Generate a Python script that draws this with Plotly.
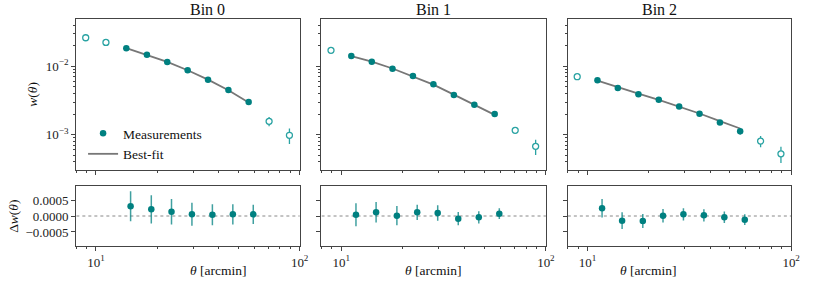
import plotly.graph_objects as go

# ---------------- data ----------------
theta = [8.91, 11.2, 14.1, 17.8, 22.4, 28.2, 35.5, 44.7, 56.2, 70.8, 89.1]
theta_res = [11.8, 14.8, 18.7, 23.5, 29.6, 37.3, 47.0, 59.2]

# Bin 0
w0 = [0.0262, 0.0224, 0.01836, 0.01479, 0.01156, 0.00874, 0.00637, 0.00450, 0.00300, 0.00157, 0.00098]
e0 = [0.0006, 0.0005, 0.0004, 0.0003, 0.00025, 0.0002, 0.00016, 0.00013, 0.00012, 0.00024, 0.00025]
used0 = [False, False, True, True, True, True, True, True, True, False, False]
fit0 = [0.0185, 0.01475, 0.01160, 0.00878, 0.00640, 0.00448, 0.00295]
r0 = [0.000302, 0.000208, 0.000135, 0.000052, 0.000042, 0.000052, 0.000052]
re0 = [0.00047, 0.00044, 0.00040, 0.00036, 0.00033, 0.00032, 0.00030]

# Bin 1
w1 = [0.01714, 0.01416, 0.01167, 0.00923, 0.00722, 0.00545, 0.00380, 0.00274, 0.00200, 0.001156, 0.000675]
e1 = [0.0004, 0.0003, 0.00025, 0.0002, 0.00016, 0.00013, 0.0001, 0.00009, 0.00008, 0.0001, 0.00017]
used1 = [False, True, True, True, True, True, True, True, True, False, False]
fit1 = [0.01410, 0.01170, 0.00930, 0.00718, 0.00540, 0.00385, 0.00272, 0.00195]
r1 = [0.000042, 0.000115, 0.00001, 0.000115, 0.000094, -0.000083, -0.000042, 0.000073]
re1 = [0.00036, 0.00032, 0.00030, 0.00024, 0.00024, 0.00021, 0.00019, 0.00017]

# Bin 2
w2 = [0.00705, 0.00624, 0.00481, 0.00389, 0.00325, 0.00259, 0.00202, 0.00151, 0.00112, 0.000805, 0.000525]
e2 = [0.00015, 0.00014, 0.00012, 0.0001, 0.00009, 0.00008, 0.00008, 0.0001, 0.00012, 0.00015, 0.00014]
used2 = [False, True, True, True, True, True, True, True, True, False, False]
fit2 = [0.00620, 0.00495, 0.00400, 0.00323, 0.00258, 0.00204, 0.00158, 0.00123]
r2 = [0.00024, -0.000146, -0.000156, 0.00001, 0.000052, 0.000021, -0.000042, -0.000115]
re2 = [0.00029, 0.00026, 0.00022, 0.00021, 0.00019, 0.00019, 0.00018, 0.00017]

bins = ["Bin 0", "Bin 1", "Bin 2"]
W = [w0, w1, w2]
E = [e0, e1, e2]
USED = [used0, used1, used2]
FIT = [fit0, fit1, fit2]
R = [r0, r1, r2]
RE = [re0, re1, re2]
RX = [theta_res[1:], theta_res, theta_res]

y_ticks = [1e-3, 1e-2]
y_ticktext = ["10<sup>\u22123</sup>", "10<sup>\u22122</sup>"]
x_ticks = [10, 100]
x_ticktext = ["10<sup>1</sup>", "10<sup>2</sup>"]
r_ticks = [-0.0005, 0.0, 0.0005]
r_ticktext = ["\u22120.0005", "0.0000", "0.0005"]

# ---------------- style ----------------
TEAL = "#008080"
TEAL_ERR = "rgba(0,128,128,0.75)"
TEAL_OPEN = "#2aa3a3"
FIT_COL = "#777777"
AX_COL = "#444444"
FONT = "Liberation Serif"

W_PX, H_PX = 814, 284
xdom_px = [(77, 303), (325, 552), (574, 800)]
top_px = (19, 170)
bot_px = (186, 246)


def xd(p):
    return [p[0] / W_PX, p[1] / W_PX]


def yd(p):
    return [1 - p[1] / H_PX, 1 - p[0] / H_PX]


fig = go.Figure()
layout = {}

for i in range(3):
    xa_top = "x" if i == 0 else f"x{2*i+1}"
    ya_top = "y" if i == 0 else f"y{2*i+1}"
    xa_bot = f"x{2*i+2}"
    ya_bot = f"y{2*i+2}"

    used_x = [t for t, u in zip(theta, USED[i]) if u]
    used_y = [v for v, u in zip(W[i], USED[i]) if u]
    used_e = [v for v, u in zip(E[i], USED[i]) if u]
    un_x = [t for t, u in zip(theta, USED[i]) if not u]
    un_y = [v for v, u in zip(W[i], USED[i]) if not u]
    un_e = [v for v, u in zip(E[i], USED[i]) if not u]

    fig.add_trace(go.Scatter(
        x=used_x, y=FIT[i], mode="lines", line=dict(color=FIT_COL, width=1.8),
        name="Best-fit", showlegend=False, xaxis=xa_top, yaxis=ya_top, legendrank=2))
    fig.add_trace(go.Scatter(
        x=un_x, y=un_y, mode="markers",
        marker=dict(symbol="circle", size=6, color="white",
                    line=dict(color=TEAL_OPEN, width=1.3)),
        error_y=dict(type="data", array=un_e, color=TEAL_OPEN, thickness=1.3, width=0),
        showlegend=False, xaxis=xa_top, yaxis=ya_top))
    fig.add_trace(go.Scatter(
        x=used_x, y=used_y, mode="markers",
        marker=dict(symbol="circle", size=6.5, color=TEAL),
        error_y=dict(type="data", array=used_e, color=TEAL_ERR, thickness=1.3, width=0),
        name="Measurements", showlegend=(i == 0), xaxis=xa_top, yaxis=ya_top,
        legendrank=1))
    if i == 0:
        fig.add_trace(go.Scatter(
            x=[None], y=[None], mode="lines", line=dict(color=FIT_COL, width=1.8),
            name="Best-fit", showlegend=True, xaxis=xa_top, yaxis=ya_top, legendrank=2))

    # residual
    fig.add_trace(go.Scatter(
        x=[7, 110], y=[0, 0], mode="lines",
        line=dict(color="#888888", width=1, dash="dot"),
        showlegend=False, hoverinfo="skip", xaxis=xa_bot, yaxis=ya_bot))
    fig.add_trace(go.Scatter(
        x=RX[i], y=R[i], mode="markers",
        marker=dict(symbol="circle", size=6.5, color=TEAL),
        error_y=dict(type="data", array=RE[i], color=TEAL_ERR, thickness=1.5, width=0),
        showlegend=False, xaxis=xa_bot, yaxis=ya_bot))

    common_x = dict(type="log", range=[0.903, 2.0], domain=xd(xdom_px[i]),
                    showline=True, linecolor=AX_COL, linewidth=1, mirror=True,
                    ticks="outside", ticklen=4, tickcolor=AX_COL, showgrid=False,
                    zeroline=False, tickvals=x_ticks, ticktext=x_ticktext,
                    minor=dict(ticks="outside", ticklen=2, tickcolor=AX_COL,
                               tickvals=[8, 9, 20, 30, 40, 50, 60, 70, 80, 90], showgrid=False),
                    tickfont=dict(family=FONT, size=13, color="#222"))
    kx_top = "xaxis" if i == 0 else f"xaxis{2*i+1}"
    ky_top = "yaxis" if i == 0 else f"yaxis{2*i+1}"
    layout[kx_top] = dict(common_x, anchor=ya_top, showticklabels=False)
    layout[f"xaxis{2*i+2}"] = dict(common_x, anchor=ya_bot, showticklabels=True)

    minor_y = [k * 1e-4 for k in range(3, 10)] + [k * 1e-3 for k in range(2, 10)] + \
              [k * 1e-2 for k in range(2, 5)]
    layout[ky_top] = dict(type="log", range=[-3.517, -1.307], domain=yd(top_px),
                          anchor=xa_top, showline=True, linecolor=AX_COL, linewidth=1,
                          mirror=True, ticks="outside", ticklen=4, tickcolor=AX_COL,
                          showgrid=False, zeroline=False, tickvals=y_ticks,
                          ticktext=y_ticktext, showticklabels=(i == 0),
                          minor=dict(ticks="outside", ticklen=2, tickcolor=AX_COL,
                                     tickvals=minor_y, showgrid=False),
                          tickfont=dict(family=FONT, size=13, color="#222"))
    layout[f"yaxis{2*i+2}"] = dict(range=[-0.00094, 0.00094], domain=yd(bot_px),
                                   anchor=xa_bot, showline=True, linecolor=AX_COL,
                                   linewidth=1, mirror=True, ticks="outside", ticklen=4,
                                   tickcolor=AX_COL, showgrid=False, zeroline=False,
                                   tickvals=r_ticks, ticktext=r_ticktext,
                                   showticklabels=(i == 0),
                                   tickfont=dict(family=FONT, size=13, color="#222"))

annotations = []
for i in range(3):
    cx = (xdom_px[i][0] + xdom_px[i][1]) / 2 / W_PX
    annotations.append(dict(text=bins[i], x=cx, y=1 - 10 / H_PX, xref="paper", yref="paper",
                            showarrow=False, yanchor="middle",
                            font=dict(family=FONT, size=16, color="#111")))
    annotations.append(dict(text="<i>\u03b8</i> [arcmin]", x=cx, y=1 - 270 / H_PX,
                            xref="paper", yref="paper", showarrow=False, yanchor="middle",
                            font=dict(family=FONT, size=13.5, color="#111")))
annotations.append(dict(text="<i>w</i>(<i>\u03b8</i>)", x=32 / W_PX, y=1 - 94 / H_PX,
                        xref="paper", yref="paper", showarrow=False, textangle=-90,
                        xanchor="center", yanchor="middle",
                        font=dict(family=FONT, size=13.5, color="#111")))
annotations.append(dict(text="\u0394<i>w</i>(<i>\u03b8</i>)", x=13 / W_PX, y=1 - 216 / H_PX,
                        xref="paper", yref="paper", showarrow=False, textangle=-90,
                        xanchor="center", yanchor="middle",
                        font=dict(family=FONT, size=13.5, color="#111")))

fig.update_layout(
    width=W_PX, height=H_PX, margin=dict(l=0, r=0, t=0, b=0),
    paper_bgcolor="white", plot_bgcolor="white",
    showlegend=True,
    legend=dict(x=84 / W_PX, y=1 - 118 / H_PX, xanchor="left", yanchor="top",
                bgcolor="rgba(255,255,255,0)", borderwidth=0,
                font=dict(family=FONT, size=13.5, color="#111"),
                tracegroupgap=0, itemwidth=30),
    annotations=annotations,
    **layout,
)

fig.write_html("out.html", config={"displayModeBar": False},
               post_script="document.body.style.margin='0';document.body.style.padding='0';")
